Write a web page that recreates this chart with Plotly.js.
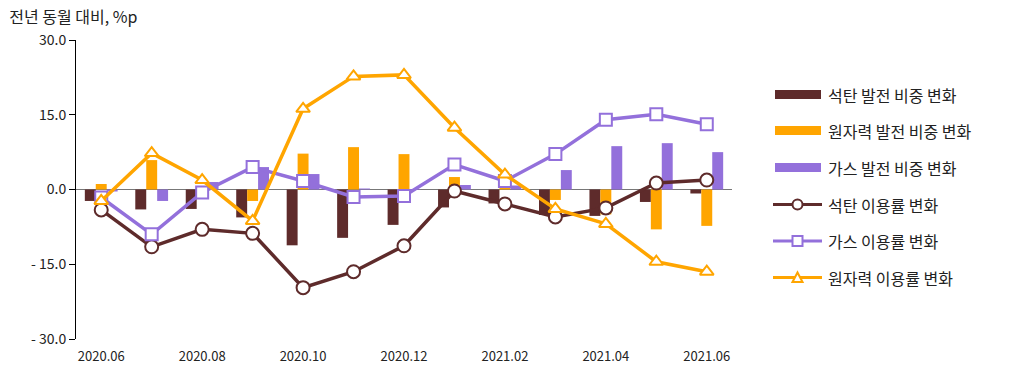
<!DOCTYPE html>
<html>
<head>
<meta charset="utf-8">
<script src="https://cdn.plot.ly/plotly-3.0.1.min.js"></script>
<style>html,body{margin:0;padding:0;background:#fff;}#chart{width:1021px;height:375px;}</style>
</head>
<body>
<div id="chart"></div>
<script>
const months = ["2020.06","2020.07","2020.08","2020.09","2020.10","2020.11","2020.12","2021.01","2021.02","2021.03","2021.04","2021.05","2021.06"];
const xTickVals = ["2020.06","2020.08","2020.10","2020.12","2021.02","2021.04","2021.06"];
const yTickVals = [30, 15, 0, -15, -30];
const yTickText = ["30.0", "15.0", "0.0", "- 15.0", "- 30.0"];

const coalShare = [-2.3, -4.0, -3.9, -5.6, -11.2, -9.7, -7.1, -3.6, -2.8, -5.1, -5.3, -2.5, -0.8];
const nuclearShare = [1.1, 5.9, 0.1, -2.3, 7.2, 8.5, 7.1, 2.5, 0.5, -2.1, -5.0, -8.0, -7.3];
const gasShare = [-0.4, -2.3, 1.5, 4.5, 3.1, 0.2, -0.1, 0.9, 0.8, 3.9, 8.7, 9.3, 7.5];

const coalUtil = [-4.1, -11.5, -8.0, -8.8, -19.7, -16.5, -11.3, -0.3, -2.9, -5.5, -3.7, 1.3, 1.9];
const gasUtil = [-1.6, -9.0, -0.6, 4.5, 1.7, -1.5, -1.3, 5.0, 1.7, 7.1, 14.0, 15.1, 13.1];
const nuclearUtil = [-2.3, 7.3, 1.9, -6.3, 16.2, 22.7, 23.0, 12.4, 3.0, -3.9, -6.9, -14.5, -16.5];

const names = ["석탄 발전 비중 변화","원자력 발전 비중 변화","가스 발전 비중 변화","석탄 이용률 변화","가스 이용률 변화","원자력 이용률 변화"];

const cCoal = "#5E2B2B", cNuc = "#FFA500", cGas = "#9370DB";
const colors = [cCoal, cNuc, cGas, cCoal, cGas, cNuc];
const kinds = ["bar","bar","bar","circle","square","triangle"];

const data = [
  {type:"bar", x:months, y:coalShare, name:names[0], marker:{color:cCoal}},
  {type:"bar", x:months, y:nuclearShare, name:names[1], marker:{color:cNuc}},
  {type:"bar", x:months, y:gasShare, name:names[2], marker:{color:cGas}},
  {type:"scatter", mode:"lines+markers", x:months, y:coalUtil, name:names[3],
   line:{color:cCoal, width:3.5}, marker:{symbol:"circle", size:13, color:"#fff", line:{color:cCoal, width:2}}},
  {type:"scatter", mode:"lines+markers", x:months, y:gasUtil, name:names[4],
   line:{color:cGas, width:3.5}, marker:{symbol:"square", size:12, color:"#fff", line:{color:cGas, width:2}}},
  {type:"scatter", mode:"lines+markers", x:months, y:nuclearUtil, name:names[5],
   line:{color:cNuc, width:3.5}, marker:{symbol:"triangle-up", size:12, color:"#fff", line:{color:cNuc, width:2}}}
];

// plot area in pixels
const L = 76, R = 732, T = 40, B = 339;
const px = v => (v - L) / (R - L);
const py = v => (B - v) / (B - T);

const shapes = [];
const annotations = [];
const legY = [94.5, 130.5, 167.5, 204.5, 241, 277.5];
for (let i = 0; i < names.length; i++) {
  const y = legY[i], c = colors[i];
  if (kinds[i] === "bar") {
    shapes.push({type:"rect", xref:"paper", yref:"paper", x0:px(775), x1:px(821), y0:py(y-4.5), y1:py(y+4.5),
                 fillcolor:c, line:{width:0}});
  } else {
    shapes.push({type:"line", xref:"paper", yref:"paper", x0:px(773), x1:px(822), y0:py(y), y1:py(y),
                 line:{color:c, width:3}});
    if (kinds[i] === "circle") {
      shapes.push({type:"circle", xref:"paper", yref:"paper", x0:px(792.5), x1:px(802.5), y0:py(y-5), y1:py(y+5),
                   fillcolor:"#fff", line:{color:c, width:2}});
    } else if (kinds[i] === "square") {
      shapes.push({type:"rect", xref:"paper", yref:"paper", x0:px(792.5), x1:px(802.5), y0:py(y-5), y1:py(y+5),
                   fillcolor:"#fff", line:{color:c, width:2}});
    } else {
      shapes.push({type:"path", xref:"paper", yref:"paper",
                   path:`M${px(792.5)},${py(y+4.5)} L${px(802.5)},${py(y+4.5)} L${px(797.5)},${py(y-5)} Z`,
                   fillcolor:"#fff", line:{color:c, width:2}});
    }
  }
  annotations.push({xref:"paper", yref:"paper", x:px(826), y:py(y), xanchor:"left", yanchor:"middle",
                    text:names[i], showarrow:false, font:{size:16, color:"#222"}});
}

const layout = {
  width:1021, height:375,
  margin:{l:L, r:1021-R, t:T, b:375-B},
  paper_bgcolor:"#fff", plot_bgcolor:"#fff",
  font:{family:"Noto Sans CJK KR, sans-serif", color:"#222", size:14},
  barmode:"group", bargap:0.35, bargroupgap:0,
  title:{text:"전년 동월 대비, %p", x:0.009, xanchor:"left", y:0.953, yanchor:"middle", font:{size:16, color:"#222"}},
  xaxis:{type:"category", range:[-0.5,12.5], tickmode:"array", tickvals:xTickVals, ticktext:xTickVals,
         showgrid:false, showline:false, zeroline:false, ticks:"", tickfont:{size:13, color:"#222"}, ticklabelstandoff:8},
  yaxis:{range:[-30,30], tickmode:"array", tickvals:yTickVals, ticktext:yTickText, showgrid:false,
         showline:true, linecolor:"#000", linewidth:1, ticks:"outside", ticklen:6, tickcolor:"#000",
         zeroline:true, zerolinecolor:"#777", zerolinewidth:1.5, tickfont:{size:14, color:"#222"}},
  shapes:shapes,
  annotations:annotations,
  showlegend:false
};

Plotly.newPlot("chart", data, layout, {displayModeBar:false, staticPlot:true});
</script>
</body>
</html>
